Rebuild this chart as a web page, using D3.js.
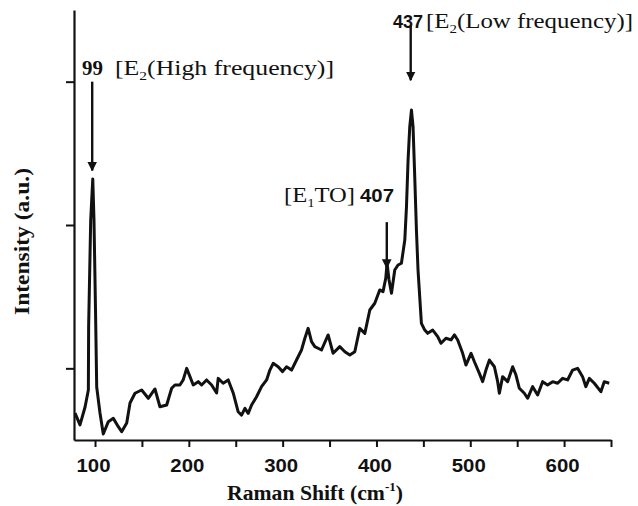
<!DOCTYPE html>
<html>
<head>
<meta charset="utf-8">
<script src="https://cdn.jsdelivr.net/npm/d3@7/dist/d3.min.js"></script>
<style>
  html, body { margin: 0; padding: 0; background: #fff; }
  svg { display: block; }
</style>
</head>
<body>
<svg id="chart" width="638" height="506"></svg>
<script>
// ---- data ----
const ramanShift = [78.7, 84.0, 89.4, 92.9, 93.2, 95.4, 97.6, 98.9, 100.5, 101.8, 105.3, 108.8, 114.2, 119.5, 124.8, 128.4, 133.8, 137.3, 142.6, 149.7,
  156.8, 163.9, 169.2, 176.4, 181.7, 185.2, 190.5, 194.0, 197.7, 201.2, 204.7, 210.0, 213.6, 218.9, 224.3, 229.6, 231.3, 236.6, 242.0, 247.3,
  252.6, 256.2, 259.8, 263.3, 266.9, 272.2, 277.5, 282.9, 286.4, 289.9, 295.2, 299.9, 304.2, 309.5, 314.8, 320.1, 323.7, 327.2, 330.8, 334.3,
  337.8, 341.4, 348.5, 353.8, 360.9, 366.3, 371.6, 376.9, 382.2, 387.6, 392.9, 398.2, 403.5, 407.0, 409.9, 411.3, 413.4, 416.0, 419.5, 423.0,
  426.6, 430.2, 432.0, 433.7, 435.5, 437.3, 439.0, 440.8, 442.6, 444.3, 446.1, 447.9, 451.5, 454.6, 460.0, 465.3, 468.8, 474.1, 479.5, 483.1,
  486.6, 491.9, 495.4, 500.8, 504.4, 509.7, 513.2, 516.7, 520.4, 525.7, 529.2, 531.0, 534.5, 539.8, 545.2, 548.7, 552.3, 557.6, 561.1, 566.5,
  571.8, 577.1, 582.4, 587.8, 593.1, 598.4, 603.7, 609.1, 614.4, 619.7, 623.2, 626.9, 632.2, 639.2, 642.8, 648.1];
const intensity = [688, 605, 730, 849, 1288, 2035, 2321, 2035, 1421, 870, 688, 542, 628, 651, 593, 558, 619, 758, 826, 849,
  791, 856, 732, 744, 861, 884, 884, 919, 1000, 942, 884, 907, 884, 919, 884, 828, 930, 896, 919, 828,
  697, 674, 721, 686, 744, 802, 872, 919, 988, 1035, 1011, 977, 1011, 988, 1058, 1128, 1210, 1279, 1186, 1151,
  1140, 1128, 1233, 1105, 1151, 1116, 1093, 1116, 1279, 1244, 1407, 1454, 1547, 1535, 1628, 1733, 1616, 1524, 1686, 1721,
  1733, 1895, 2128, 2454, 2686, 2802, 2686, 2337, 1965, 1686, 1500, 1314, 1267, 1244, 1267, 1221, 1175, 1210, 1198, 1233,
  1198, 1105, 1023, 1105, 1046, 965, 907, 988, 1058, 1011, 907, 826, 942, 907, 1011, 953, 861, 826, 791, 872,
  814, 907, 884, 907, 896, 930, 919, 988, 1000, 942, 872, 930, 896, 837, 907, 896];

const xMajorTicks = [100, 200, 300, 400, 500, 600];
const xMinorTicks = [150, 250, 350, 450, 550, 650];
const yTicks = [1000, 2000, 3000];
const xDomain = [77.6, 650];
const yDomain = [500, 3500];

// annotations: peak position, arrow start / end intensity, labels
const annotations = [
  { num: "99",  pre: "[E", sub: "2", post: "(High frequency)]", x: 97.0,  yFrom: 3000, yTo: 2380 },
  { num: "437", pre: "[E", sub: "2", post: "(Low frequency)]",  x: 436.5, yFrom: 3390, yTo: 3010 },
  { num: "407", pre: "[E", sub: "1", post: "TO]",               x: 411.0, yFrom: 2020, yTo: 1700 }
];

// ---- drawing ----
const svg = d3.select("#chart");
const x = d3.scaleLinear().domain(xDomain).range([74, 611]);
const y = d3.scaleLinear().domain(yDomain).range([440, 10]);

const ink = "#111";
const serif = "'Liberation Serif', 'Times New Roman', serif";
const sans = "'Liberation Sans', Arial, sans-serif";

// spectrum
const pts = ramanShift.map((v, i) => [v, intensity[i]]);
svg.append("path")
  .datum(pts)
  .attr("fill", "none")
  .attr("stroke", ink)
  .attr("stroke-width", 3)
  .attr("stroke-linejoin", "round")
  .attr("d", d3.line().x(d => x(d[0])).y(d => y(d[1])));

// x axis
const gx = svg.append("g").attr("transform", "translate(0,440)");
gx.call(d3.axisBottom(x).tickValues(xMajorTicks).tickSize(7).tickSizeOuter(0).tickFormat(d3.format("d")));
const gxm = svg.append("g").attr("transform", "translate(0,440)");
gxm.call(d3.axisBottom(x).tickValues(xMinorTicks).tickSize(7).tickSizeOuter(0).tickFormat(""));
gxm.select(".domain").remove();
[gx, gxm].forEach(g => {
  g.select(".domain").attr("stroke", ink).attr("stroke-width", 2.2);
  g.selectAll(".tick line").attr("stroke", ink).attr("stroke-width", 2);
});
gx.selectAll(".tick text")
  .attr("fill", ink)
  .attr("font-family", sans)
  .attr("font-weight", "bold")
  .attr("font-size", 18)
  .attr("y", 32)
  .attr("dy", 0)
  .attr("dx", -2)
  .attr("textLength", 34)
  .attr("lengthAdjust", "spacingAndGlyphs");

// y axis
const gy = svg.append("g").attr("transform", "translate(74,0)");
gy.call(d3.axisLeft(y).tickValues(yTicks).tickSize(8).tickSizeOuter(0).tickFormat(""));
gy.select(".domain").attr("stroke", ink).attr("stroke-width", 2.2);
gy.selectAll(".tick line").attr("stroke", ink).attr("stroke-width", 2);

// axis titles
const xt = svg.append("text")
  .attr("x", 227).attr("y", 500)
  .attr("font-family", serif).attr("font-weight", "bold").attr("font-size", 20)
  .attr("fill", ink)
  .attr("textLength", 176).attr("lengthAdjust", "spacingAndGlyphs");
xt.append("tspan").text("Raman Shift (cm");
xt.append("tspan").attr("font-size", 12).attr("dy", -9).text("-1");
xt.append("tspan").attr("dy", 9).text(")");

svg.append("text")
  .attr("transform", "translate(29,315) rotate(-90)")
  .attr("font-family", serif).attr("font-weight", "bold").attr("font-size", 21)
  .attr("fill", ink)
  .attr("textLength", 147).attr("lengthAdjust", "spacingAndGlyphs")
  .text("Intensity (a.u.)");

// arrows
const defs = svg.append("defs");
defs.append("marker")
  .attr("id", "head").attr("viewBox", "0 0 10 10")
  .attr("refX", 9).attr("refY", 5)
  .attr("markerWidth", 4).attr("markerHeight", 4)
  .attr("orient", "auto")
  .append("path").attr("d", "M0,0 L10,5 L0,10 z").attr("fill", ink);

annotations.forEach(a => {
  svg.append("line")
    .attr("x1", x(a.x)).attr("x2", x(a.x))
    .attr("y1", y(a.yFrom)).attr("y2", y(a.yTo))
    .attr("stroke", ink).attr("stroke-width", 2.4)
    .attr("marker-end", "url(#head)");
});

// labels
function bracket(sel, a) {
  sel.append("tspan").text(a.pre);
  sel.append("tspan").attr("font-size", 12).attr("dy", 5).text(a.sub);
  sel.append("tspan").attr("dy", -5).text(a.post);
}
// 99
svg.append("text").attr("x", 82).attr("y", 75)
  .attr("font-family", serif).attr("font-weight", "bold").attr("font-size", 20).attr("fill", ink)
  .attr("textLength", 21).attr("lengthAdjust", "spacingAndGlyphs")
  .text(annotations[0].num);
bracket(svg.append("text").attr("x", 115).attr("y", 75)
  .attr("font-family", serif).attr("font-size", 20).attr("fill", ink)
  .attr("textLength", 219).attr("lengthAdjust", "spacingAndGlyphs"), annotations[0]);
// 437
svg.append("text").attr("x", 393).attr("y", 28)
  .attr("font-family", sans).attr("font-weight", "bold").attr("font-size", 18).attr("fill", ink)
  .attr("textLength", 30).attr("lengthAdjust", "spacingAndGlyphs")
  .text(annotations[1].num);
bracket(svg.append("text").attr("x", 426).attr("y", 28)
  .attr("font-family", serif).attr("font-size", 20).attr("fill", ink)
  .attr("textLength", 207).attr("lengthAdjust", "spacingAndGlyphs"), annotations[1]);
// 407
bracket(svg.append("text").attr("x", 284).attr("y", 202)
  .attr("font-family", serif).attr("font-size", 20).attr("fill", ink)
  .attr("textLength", 71).attr("lengthAdjust", "spacingAndGlyphs"), annotations[2]);
svg.append("text").attr("x", 360).attr("y", 202)
  .attr("font-family", sans).attr("font-weight", "bold").attr("font-size", 18).attr("fill", ink)
  .attr("textLength", 34).attr("lengthAdjust", "spacingAndGlyphs")
  .text(annotations[2].num);
</script>
</body>
</html>
